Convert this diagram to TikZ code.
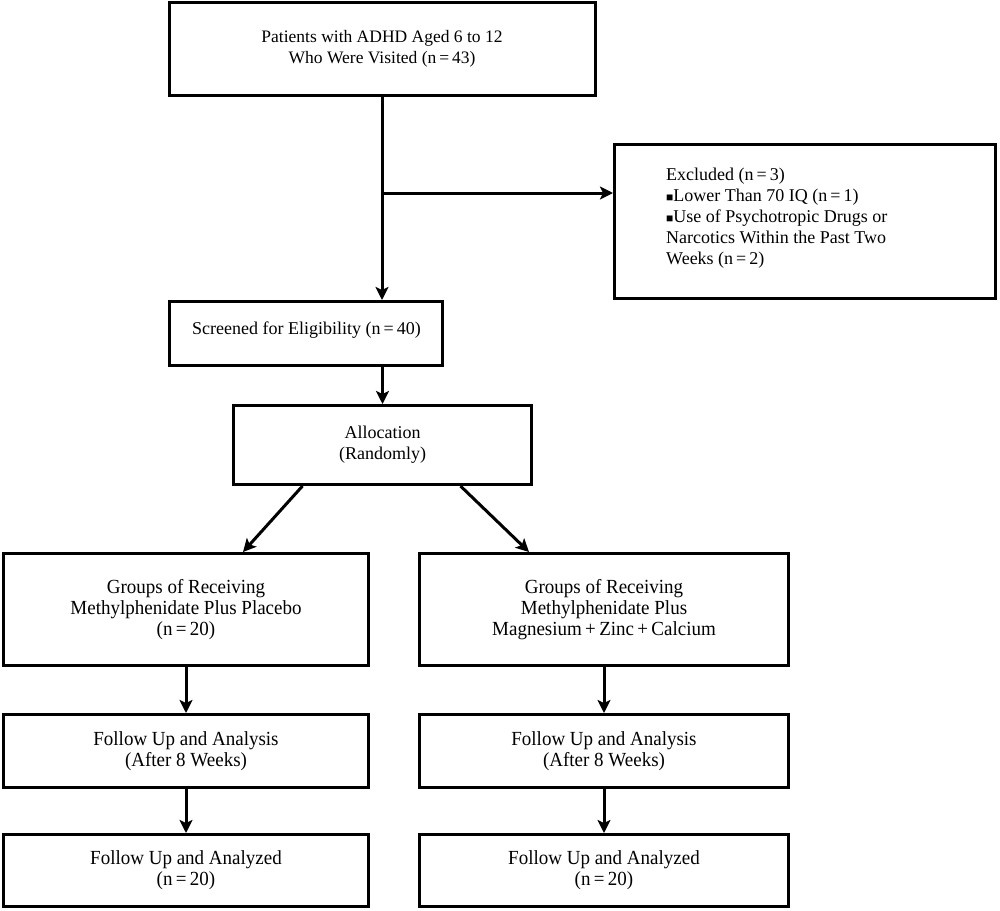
\documentclass[tikz,border=0pt]{standalone}
\usepackage{fontspec}
\setmainfont{Liberation Serif}
\newfontfamily\condfont[FakeStretch=0.95]{Liberation Serif}
\usetikzlibrary{arrows.meta,calc}
\tikzset{
  box/.style={draw, line width=3pt, inner sep=0pt, align=center,
    font=\fontsize{18}{21}\selectfont},
  condbox/.style={box, font=\condfont\fontsize{20}{21}\selectfont},
  txt/.style={inner sep=0pt, align=left, font=\fontsize{18}{21}\selectfont},
  arr/.style={line width=3pt, -{Stealth[length=13pt,width=13pt,inset=3pt]}},
  ln/.style={line width=3pt}
}
\begin{document}
\begin{tikzpicture}[x=1pt,y=-1pt]
\useasboundingbox (0,0) rectangle (1000,910);
\node[box, minimum width=426pt, minimum height=93pt, font=\fontsize{17.5}{21}\selectfont] (top) at (382,49)
  {Patients with ADHD Aged 6 to 12\\Who Were Visited (n\,=\,43)};
\node[box, minimum width=381pt, minimum height=154pt] (excl) at (805,221.5) {};
\node[txt, anchor=north west] (excltxt) at (666,168)
  {Excluded (n\,=\,3)\\
   {\fontsize{12}{12}\selectfont ■}Lower Than 70 IQ (n\,=\,1)\\
   {\fontsize{12}{12}\selectfont ■}Use of Psychotropic Drugs or\\
   Narcotics Within the Past Two\\
   Weeks (n\,=\,2)};
\node[box, minimum width=273pt, minimum height=64pt] (screen) at (306,333.5) {};
\node[txt, anchor=west] (screentxt) at (192,330) {Screened for Eligibility (n\,=\,40)};
\node[box, minimum width=298pt, minimum height=79pt] (alloc) at (382.5,445)
  {Allocation\\(Randomly)};
\node[condbox, minimum width=365pt, minimum height=112pt] (gL) at (186,609.5)
  {Groups of Receiving\\Methylphenidate Plus Placebo\\(n\,=\,20)};
\node[condbox, minimum width=369pt, minimum height=112pt] (gR) at (604,609.5)
  {Groups of Receiving\\Methylphenidate Plus\\Magnesium\,+\,Zinc\,+\,Calcium};
\node[condbox, minimum width=365pt, minimum height=73pt] (fL) at (186,751)
  {Follow Up and Analysis\\(After 8 Weeks)};
\node[condbox, minimum width=369pt, minimum height=73pt] (fR) at (604,751)
  {Follow Up and Analysis\\(After 8 Weeks)};
\node[condbox, minimum width=365pt, minimum height=72pt] (bL) at (186,870.5)
  {Follow Up and Analyzed\\(n\,=\,20)};
\node[condbox, minimum width=369pt, minimum height=72pt] (bR) at (604,870.5)
  {Follow Up and Analyzed\\(n\,=\,20)};
\coordinate (br) at (382,193);
\draw[arr] (top.south) -- (top.south |- screen.north);
\draw[arr] (br) -- (br -| excl.west);
\draw[arr] (alloc.north |- screen.south) -- (alloc.north);
\draw[arr] ([xshift=-80pt]alloc.south) -- ([xshift=57pt]gL.north);
\draw[arr] ([xshift=78pt]alloc.south) -- ([xshift=-75pt]gR.north);
\draw[arr] (gL.south) -- (fL.north);
\draw[arr] (fL.south) -- (bL.north);
\draw[arr] (gR.south) -- (fR.north);
\draw[arr] (fR.south) -- (bR.north);
\end{tikzpicture}
\end{document}
